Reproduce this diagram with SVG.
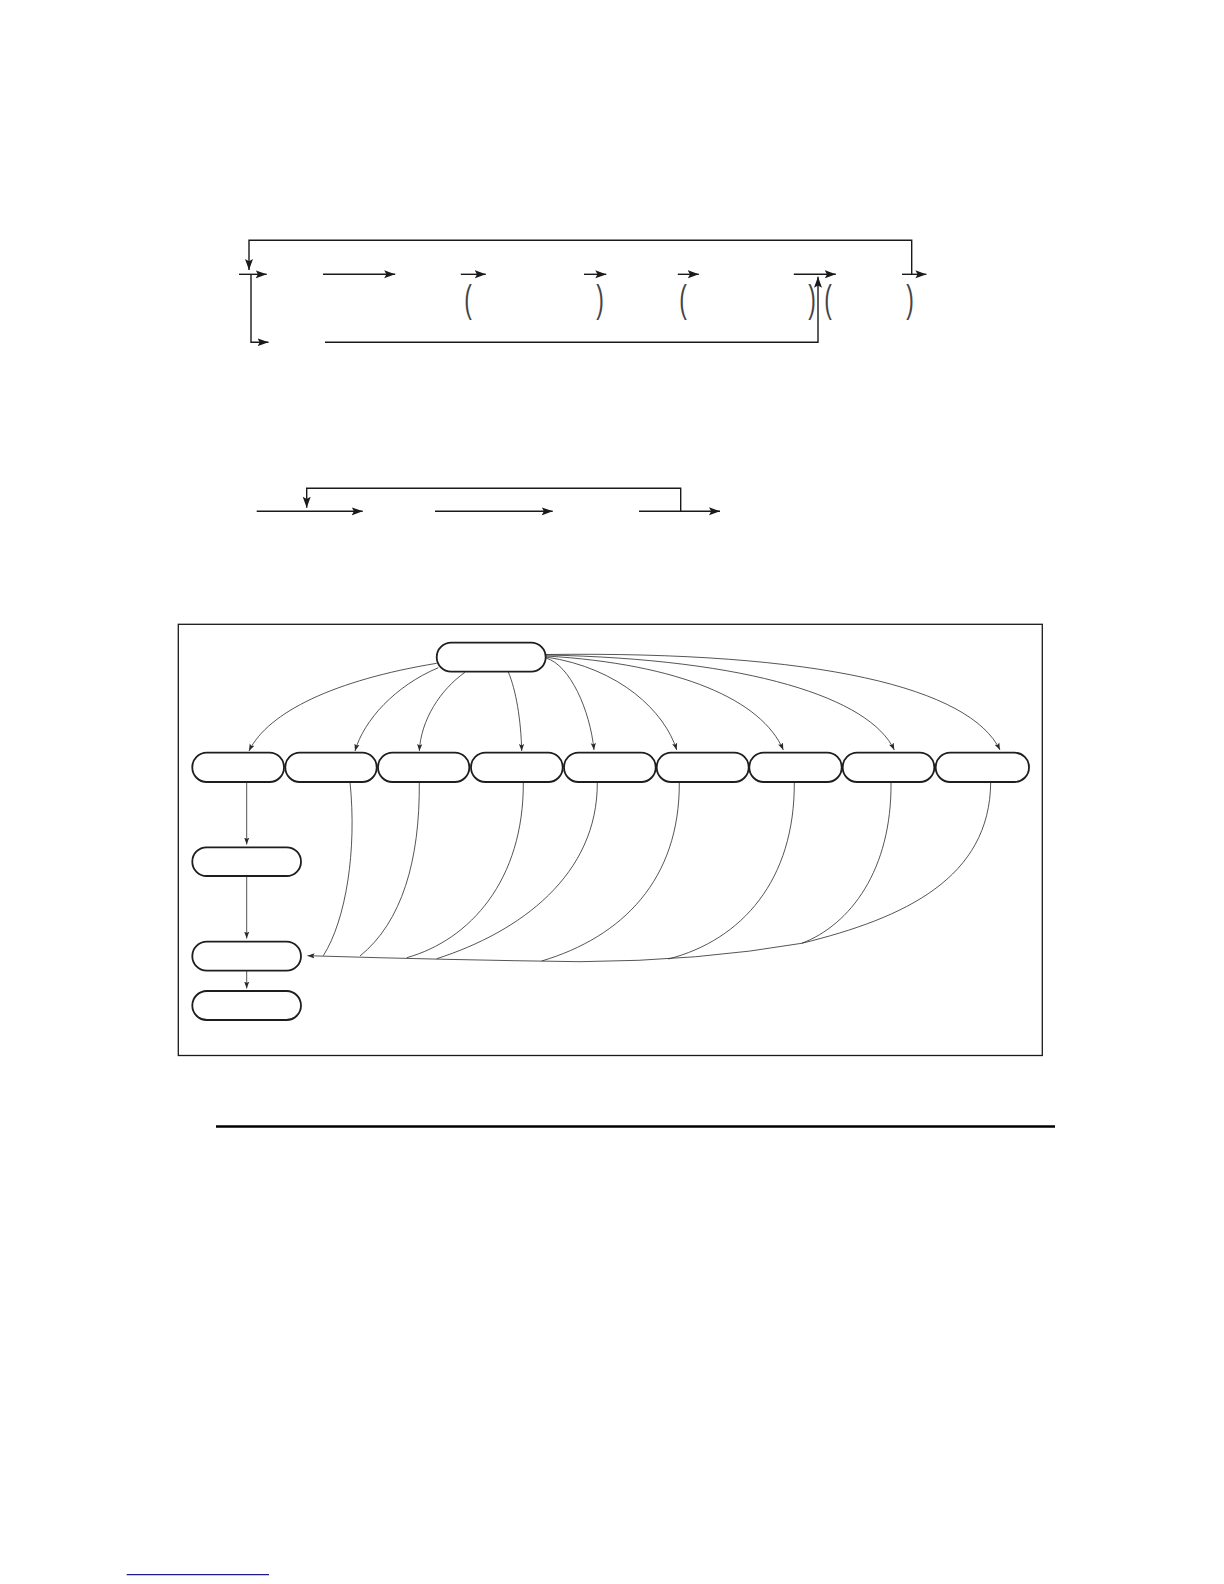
<svg xmlns="http://www.w3.org/2000/svg" width="1224" height="1584" viewBox="0 0 1224 1584">
<style>
.ln{fill:none;stroke:#1a1a1a;stroke-width:1.4}
.thin{fill:none;stroke:#2a2a2a;stroke-width:0.8}
.node{fill:#fff;stroke:#1e1e1e;stroke-width:1.8}
.par{font-family:"Liberation Sans",sans-serif;font-size:38px;fill:#444;text-anchor:middle}
</style>
<defs>
<marker id="big" viewBox="0 -4.5 11 9" refX="11" refY="0" markerWidth="11" markerHeight="9" markerUnits="userSpaceOnUse" orient="auto">
<path d="M0,-4 L11,0 L0,4 L2.2,0 z" fill="#1a1a1a"/>
</marker>
<marker id="sm" viewBox="0 -3 7 6" refX="7" refY="0" markerWidth="7" markerHeight="6" markerUnits="userSpaceOnUse" orient="auto">
<path d="M0,-2.6 L7,0 L0,2.6 L1.4,0 z" fill="#2a2a2a"/>
</marker>
</defs>
<rect width="1224" height="1584" fill="#fff"/>

<!-- top diagram -->
<g id="connectors-top">
<path class="ln" d="M911.7,274.3 V240.3 H249 V270" marker-end="url(#big)"/>
<path class="ln" d="M239,274.3 H266.7" marker-end="url(#big)"/>
<path class="ln" d="M323,274.3 H395.2" marker-end="url(#big)"/>
<path class="ln" d="M460.8,274.3 H485.8" marker-end="url(#big)"/>
<path class="ln" d="M584,274.3 H606.3" marker-end="url(#big)"/>
<path class="ln" d="M677.8,274.3 H698.8" marker-end="url(#big)"/>
<path class="ln" d="M793.8,274.3 H835.8" marker-end="url(#big)"/>
<path class="ln" d="M902,274.3 H926.4" marker-end="url(#big)"/>
<path class="ln" d="M251,274.3 V342.3 H268.5" marker-end="url(#big)"/>
<path class="ln" d="M325,342.3 H818 V276.7" marker-end="url(#big)"/>
</g>
<g id="parens">
<text class="par" transform="matrix(0.6 0 0 1 468 312)">(</text>
<text class="par" transform="matrix(0.6 0 0 1 600 312)">)</text>
<text class="par" transform="matrix(0.6 0 0 1 683 312)">(</text>
<text class="par" transform="matrix(0.6 0 0 1 812 312)">)</text>
<text class="par" transform="matrix(0.6 0 0 1 828 312)">(</text>
<text class="par" transform="matrix(0.6 0 0 1 910 312)">)</text>
</g>

<!-- second diagram -->
<g id="connectors-mid">
<path class="ln" d="M256.7,511.3 H362.7" marker-end="url(#big)"/>
<path class="ln" d="M435,511.3 H552.7" marker-end="url(#big)"/>
<path class="ln" d="M639,511.3 H720" marker-end="url(#big)"/>
<path class="ln" d="M680.7,511.3 V488.3 H306.7 V507.7" marker-end="url(#big)"/>
</g>

<!-- box diagram -->
<rect id="frame" x="178.3" y="624.3" width="864" height="431.2" fill="none" stroke="#1a1a1a" stroke-width="1.3"/>

<g id="connectors-box">
<path class="thin" d="M436.7,663.3 C335,680 268,712 249,751" marker-end="url(#sm)"/>
<path class="thin" d="M438.3,667.7 C395,686 364,720 355,751" marker-end="url(#sm)"/>
<path class="thin" d="M465,672.3 C440,690 421,720 419.3,751" marker-end="url(#sm)"/>
<path class="thin" d="M508.3,672 C516,690 521,720 521.7,751" marker-end="url(#sm)"/>
<path class="thin" d="M546,658 C570,665 590,710 594,750" marker-end="url(#sm)"/>
<path class="thin" d="M546,657 C620,668 665,712 676.7,750" marker-end="url(#sm)"/>
<path class="thin" d="M546,656 C680,664 762,700 783.3,750" marker-end="url(#sm)"/>
<path class="thin" d="M546,655 C750,659 870,698 894.3,750" marker-end="url(#sm)"/>
<path class="thin" d="M546,654.5 C820,651 970,688 1000,750" marker-end="url(#sm)"/>

<path class="thin" d="M246.7,782 V844.5" marker-end="url(#sm)"/>
<path class="thin" d="M246.7,876 V938.5" marker-end="url(#sm)"/>
<path class="thin" d="M246.7,970.7 V988.5" marker-end="url(#sm)"/>

<path class="thin" d="M350,782 C357,850 346,920 323.3,955.7"/>
<path class="thin" d="M419.3,782 C420,860 402,922 360,956"/>
<path class="thin" d="M523.3,782 C524,880 470,940 406.7,957.7"/>
<path class="thin" d="M597.3,782 C598,875 520,932 436.7,958.7"/>
<path class="thin" d="M679.3,782 C680,880 622,937 541.7,961"/>
<path class="thin" d="M794.3,782 C795,880 742,940 668.3,959"/>
<path class="thin" d="M891,782 C892,870 850,925 801.7,943.3"/>
<path class="thin" d="M990.7,782 C990,878 905,918 801.7,943.3"/>
<path class="thin" d="M801.7,943.3 Q700,961 580,961.7 Q450,960 307.5,955.7" marker-end="url(#sm)"/>
</g>

<g id="n-top"><rect class="node" x="436.7" y="642.7" width="109" height="29" rx="14.5"/></g>
<g id="n1"><rect class="node" x="192.3" y="752.7" width="91.7" height="29.3" rx="14.5"/></g>
<g id="n2"><rect class="node" x="285.3" y="752.7" width="91.4" height="29.3" rx="14.5"/></g>
<g id="n3"><rect class="node" x="378" y="752.7" width="91.3" height="29.3" rx="14.5"/></g>
<g id="n4"><rect class="node" x="471" y="752.7" width="91.7" height="29.3" rx="14.5"/></g>
<g id="n5"><rect class="node" x="564" y="752.7" width="91.7" height="29.3" rx="14.5"/></g>
<g id="n6"><rect class="node" x="656.7" y="752.7" width="92" height="29.3" rx="14.5"/></g>
<g id="n7"><rect class="node" x="749.3" y="752.7" width="92.4" height="29.3" rx="14.5"/></g>
<g id="n8"><rect class="node" x="842.7" y="752.7" width="91.6" height="29.3" rx="14.5"/></g>
<g id="n9"><rect class="node" x="935.7" y="752.7" width="93.3" height="29.3" rx="14.5"/></g>
<g id="nA"><rect class="node" x="192.3" y="847.3" width="108.7" height="28.7" rx="14.3"/></g>
<g id="nB"><rect class="node" x="192.3" y="941.7" width="108.7" height="29" rx="14.5"/></g>
<g id="nC"><rect class="node" x="192.3" y="991" width="108.7" height="29" rx="14.5"/></g>

<line id="rule" x1="216" y1="1126.5" x2="1055" y2="1126.5" stroke="#000" stroke-width="2.4"/>
<line id="footer-link" x1="126.7" y1="1574.7" x2="269" y2="1574.7" stroke="#1c1c8c" stroke-width="1.3"/>
</svg>
